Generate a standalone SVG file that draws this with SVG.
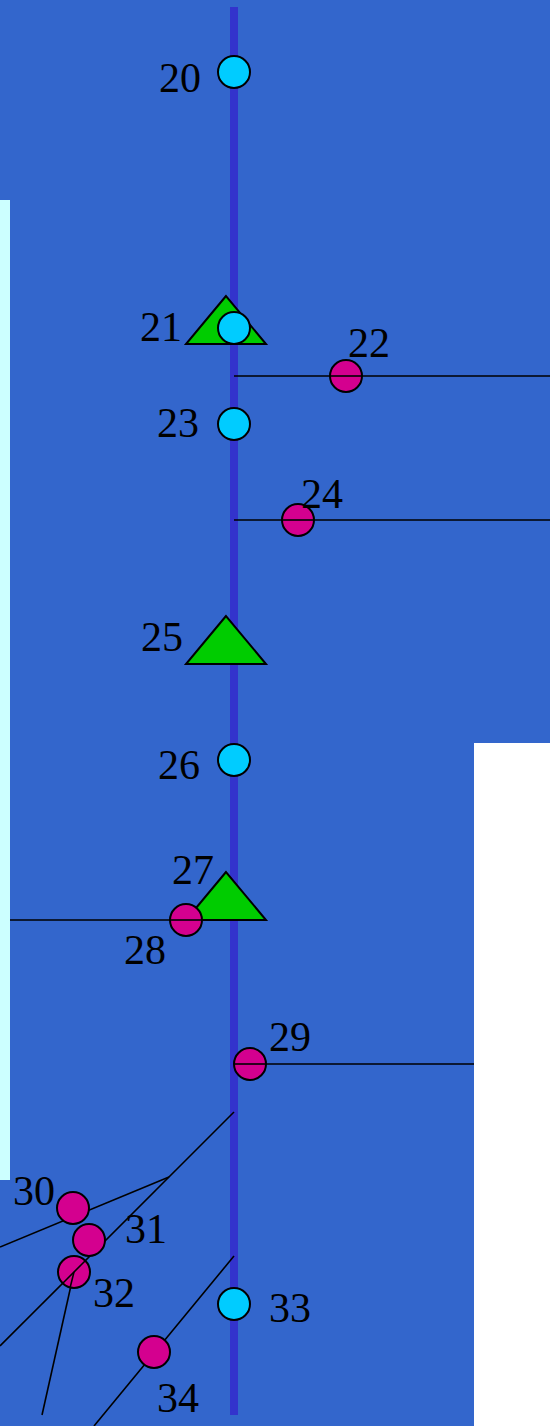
<svg xmlns="http://www.w3.org/2000/svg" width="550" height="1426" viewBox="0 0 550 1426">
<style>
.bg{fill:#3366cc}
.axis{stroke:#3333cc;stroke-width:8}
.ln{stroke:#000;stroke-width:1.6;fill:none}
.cy{fill:#00ccff;stroke:#000;stroke-width:2}
.mg{fill:#d4008f;stroke:#000;stroke-width:2}
.tri{fill:#00cc00;stroke:#000;stroke-width:2;stroke-linejoin:miter}
text{font-family:"Liberation Serif","Times New Roman",serif;font-size:42px;fill:#000}
</style>
<rect class="bg" x="0" y="0" width="550" height="1426"/>
<rect x="0" y="200" width="10" height="980" fill="#ccffff"/>
<rect x="474" y="743" width="76" height="683" fill="#ffffff"/>
<line class="axis" x1="234" y1="7" x2="234" y2="1415"/>
<g id="connectors">
<line class="ln" x1="234" y1="376" x2="550" y2="376"/>
<line class="ln" x1="234" y1="520" x2="550" y2="520"/>
<line class="ln" x1="10" y1="920" x2="234" y2="920"/>
<line class="ln" x1="250" y1="1064" x2="474" y2="1064"/>
<line class="ln" x1="234" y1="1112" x2="0" y2="1346"/>
<line class="ln" x1="169" y1="1177" x2="0" y2="1247"/>
<line class="ln" x1="74" y1="1272" x2="42" y2="1415"/>
<line class="ln" x1="234" y1="1256" x2="94" y2="1426"/>
</g>
<g id="n20"><circle class="cy" cx="234" cy="72" r="16"/><text x="201" y="92" text-anchor="end">20</text></g>
<g id="n21"><polygon class="tri" points="226,296 186,344 266,344"/><circle class="cy" cx="234" cy="328" r="16"/><text x="182" y="341" text-anchor="end">21</text></g>
<g id="n22"><circle class="mg" cx="346" cy="376" r="16"/><line class="ln" x1="330" y1="376" x2="362" y2="376"/><text x="348" y="357">22</text></g>
<g id="n23"><circle class="cy" cx="234" cy="424" r="16"/><text x="199" y="437" text-anchor="end">23</text></g>
<g id="n24"><circle class="mg" cx="298" cy="520" r="16"/><line class="ln" x1="282" y1="520" x2="314" y2="520"/><text x="301" y="508">24</text></g>
<g id="n25"><polygon class="tri" points="226,616 186,664 266,664"/><text x="183" y="651" text-anchor="end">25</text></g>
<g id="n26"><circle class="cy" cx="234" cy="760" r="16"/><text x="200" y="779" text-anchor="end">26</text></g>
<g id="n27"><polygon class="tri" points="226,872 186,920 266,920"/><text x="172" y="884">27</text></g>
<g id="n28"><circle class="mg" cx="186" cy="920" r="16"/><line class="ln" x1="170" y1="920" x2="202" y2="920"/><text x="124" y="964">28</text></g>
<g id="n29"><circle class="mg" cx="250" cy="1064" r="16"/><line class="ln" x1="234" y1="1064" x2="266" y2="1064"/><text x="269" y="1051">29</text></g>
<g id="n30"><circle class="mg" cx="73" cy="1208" r="16"/><text x="13" y="1205">30</text></g>
<g id="n31"><circle class="mg" cx="89" cy="1240" r="16"/><text x="125" y="1243">31</text></g>
<g id="n32"><circle class="mg" cx="74" cy="1272" r="16"/><line class="ln" x1="63" y1="1283" x2="85" y2="1261"/><line class="ln" x1="74" y1="1272" x2="70" y2="1288"/><text x="93" y="1307">32</text></g>
<g id="n33"><circle class="cy" cx="234" cy="1304" r="16"/><text x="269" y="1322">33</text></g>
<g id="n34"><circle class="mg" cx="154" cy="1352" r="16"/><text x="157" y="1412">34</text></g>
</svg>
